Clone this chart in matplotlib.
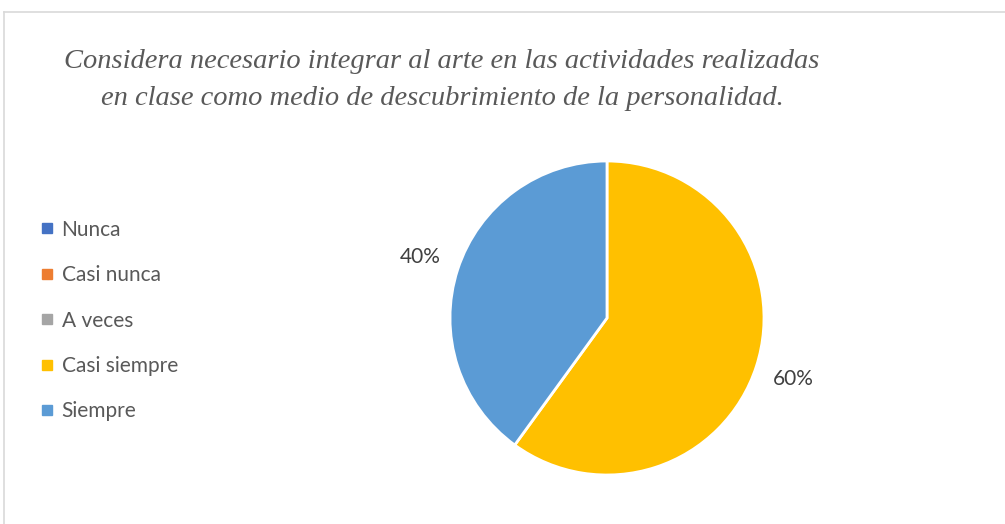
import matplotlib.pyplot as plt
from matplotlib.lines import Line2D

# Data
categories = ['Nunca', 'Casi nunca', 'A veces', 'Casi siempre', 'Siempre']
values = [0, 0, 0, 60, 40]
colors = ['#4472C4', '#ED7D31', '#A5A5A5', '#FFC000', '#5B9BD5']
title = ('Considera necesario integrar al arte en las actividades realizadas\n'
         'en clase como medio de descubrimiento de la personalidad.')

W, H = 1005, 524
fig = plt.figure(figsize=(W / 100, H / 100), dpi=100)

# chart border (top and left edges visible)
fig.add_artist(Line2D([4 / W, 1], [1 - 12 / H, 1 - 12 / H], color='#d9d9d9', lw=1.2))
fig.add_artist(Line2D([4 / W, 4 / W], [0, 1 - 12 / H], color='#d9d9d9', lw=1.2))

# pie axes: center (607, 318), radius 157 px
cx, cy, r = 607, 318, 157
ax = fig.add_axes([(cx - r) / W, (H - cy - r) / H, 2 * r / W, 2 * r / H])


def pct(p):
    return f'{p:.0f}%' if p > 0.5 else ''


wedges, texts, autotexts = ax.pie(
    values, colors=colors, startangle=90, counterclock=False,
    autopct=pct, pctdistance=1.25,
    wedgeprops=dict(edgecolor='white', linewidth=2),
    textprops=dict(fontsize=15, color='#404040', family='Lato'))
ax.set_xlim(-1, 1)
ax.set_ylim(-1, 1)
ax.axis('off')

fig.text(442 / W, 1 - 80 / H, title, ha='center', va='center',
         fontsize=20.5, style='italic', family='Liberation Serif',
         color='#595959', linespacing=1.6)

handles = [Line2D([], [], marker='s', linestyle='none', markersize=7,
                  markerfacecolor=c, markeredgecolor=c) for c in colors]
fig.legend(handles, categories, loc='upper left',
           bbox_to_anchor=(22 / W, 1 - 201 / H), frameon=False,
           prop=dict(family='Lato', size=15), labelcolor='#595959',
           handlelength=0.6, handletextpad=0.4, labelspacing=1.22)

fig.savefig('out.png', dpi=100, facecolor='white')
